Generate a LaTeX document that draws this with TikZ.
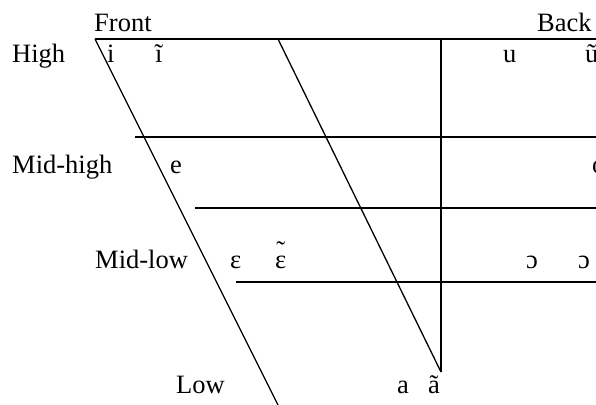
\documentclass[tikz,border=0pt]{standalone}
\usepackage{fontspec}
\setmainfont{Liberation Serif}
\begin{document}
\begin{tikzpicture}[x=1pt,y=-1pt,
  lbl/.style={inner sep=0pt,anchor=base west,font=\fontsize{26.5}{30}\selectfont},
  thick line/.style={line width=2pt},
  thin line/.style={line width=1.3pt}]
\useasboundingbox (0,0) rectangle (596,404);
\clip (0,0) rectangle (596,404);
% coordinates
\coordinate (tl) at (95,39);
\coordinate (tr) at (600,39);
\coordinate (bl) at (283,415);
\coordinate (d2t) at (278,39);
\coordinate (d2b) at (441,372);
\coordinate (vt) at (441,39);
\coordinate (h1a) at (135,137);
\coordinate (h1b) at (600,137);
\coordinate (h2a) at (195,208);
\coordinate (h2b) at (600,208);
\coordinate (h3a) at (236,282);
\coordinate (h3b) at (600,282);
% lines
\draw[thick line] (tl) -- (tr);
\draw[thin line] (tl) -- (bl);
\draw[thin line] (d2t) -- (d2b);
\draw[thick line] (vt) -- (d2b);
\draw[thick line] (h1a) -- (h1b);
\draw[thick line] (h2a) -- (h2b);
\draw[thick line] (h3a) -- (h3b);
% labels
\node[lbl] (front) at (94,32) {Front};
\node[lbl] (back) at (537,32) {Back};
\node[lbl] (high) at (12,63) {High};
\node[lbl] (i) at (107,63) {i};
\node[lbl] (itil) at (155,63) {ĩ};
\node[lbl] (u) at (503,63) {u};
\node[lbl] (util) at (585,63) {ũ};
\node[lbl] (midhigh) at (12,173) {Mid-high};
\node[lbl] (e) at (170,173) {e};
\node[lbl] (o) at (592,173) {o};
\node[lbl] (midlow) at (95,268) {Mid-low};
\node[lbl] (eps) at (230,268) {ε};
\node[lbl] (epstil) at (275,268) {\ooalign{\hfil\raisebox{0.32em}{˜}\hfil\cr ε}};
\node[lbl] (oo1) at (526,268) {ɔ};
\node[lbl] (oo2) at (578,268) {ɔ};
\node[lbl] (low) at (176,393) {Low};
\node[lbl] (a) at (397,393) {a};
\node[lbl] (atil) at (428,393) {ã};
\end{tikzpicture}
\end{document}
